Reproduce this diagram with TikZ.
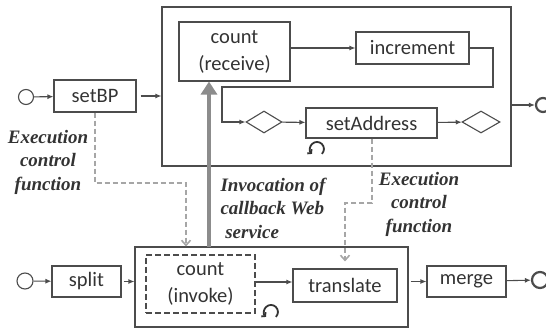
\documentclass[tikz,border=0pt]{standalone}
\usepackage{fontspec}
\setmainfont{Carlito}
\newfontfamily\labelfont{Liberation Serif}
\usetikzlibrary{shapes.geometric,arrows.meta}

\tikzset{
  task/.style={draw=black!70, line width=1.1pt, rectangle, inner sep=0pt, text=black!80,
    font=\fontsize{20.5}{27}\selectfont, align=center},
  gate/.style={draw=black!70, line width=1.1pt, diamond, inner sep=0pt},
  event/.style={draw=black!70, line width=1.1pt, circle, inner sep=0pt, minimum size=15pt},
  endevent/.style={event, line width=2.2pt, minimum size=14pt},
  flow/.style={draw=black!70, line width=1.1pt, -{Latex[length=6pt,width=5pt]}},
  ctrl/.style={draw=black!35, line width=1.6pt, dash pattern=on 5pt off 3pt, -{Straight Barb[length=5pt,width=9pt]}},
  callback/.style={draw=black!45, line width=3.5pt, -{Triangle[length=13pt,width=16pt]}},
  note/.style={font=\labelfont\bfseries\itshape\fontsize{19}{23.5}\selectfont, text=black!80},
  loopmark/.style={draw=black!80, line width=1.8pt}
}

\begin{document}
\begin{tikzpicture}[x=1pt,y=-1pt]
    \useasboundingbox (0,0) rectangle (546,328);
    % upper process
    \node[task, minimum width=349pt, minimum height=159pt] (bp) at (336.5,86.5) {};
    \node[task, minimum width=111pt, minimum height=59pt] (recv) at (234.5,51.5) {count\\(receive)};
    \node[task, minimum width=113pt, minimum height=32pt] (incr) at (412.5,48) {increment};
    \node[gate, minimum width=36pt, minimum height=22pt] (dia1) at (264,122) {};
    \node[task, minimum width=131pt, minimum height=30pt] (addr) at (371.5,123) {setAddress};
    \node[gate, minimum width=38pt, minimum height=22pt] (dia2) at (481,122) {};
    \node[event] (start1) at (26,97) {};
    \node[task, minimum width=82pt, minimum height=32pt] (setbp) at (95,96) {setBP};
    \node[endevent] (end1) at (543,105) {};
    % lower process
    \node[task, minimum width=273pt, minimum height=80pt] (ibox) at (271.5,287) {};
    \node[task, dashed, dash pattern=on 6pt off 3pt, line width=1.6pt, minimum width=109pt, minimum height=58pt] (invk) at (200.5,284) {count\\(invoke)};
    \node[task, minimum width=104pt, minimum height=33pt] (trans) at (345,285.5) {translate};
    \node[event, minimum size=16pt] (start2) at (25,281) {};
    \node[task, minimum width=69pt, minimum height=31pt] (split) at (86.5,281.5) {split};
    \node[task, minimum width=79pt, minimum height=31pt] (merge) at (466.5,281.5) {merge};
    \node[endevent, minimum size=16pt] (end2) at (540,280) {};

    % sequence flows
    \draw[flow] (start1) -- (setbp);
    \draw[flow, shorten <=4pt] (setbp.east) -- (setbp.east -| bp.west);
    \draw[flow] (recv.east |- incr.west) -- (incr.west);
    \coordinate (lp1) at (493,87);
    \coordinate (lp2) at (222,87);
    \draw[flow] (incr.east) -| (lp1) -- (lp2) |- (dia1.west);
    \draw[flow] (dia1) -- (addr);
    \draw[flow] (addr) -- (dia2);
    \draw[flow] (bp.east |- end1) -- (end1);
    \draw[flow] (start2) -- (split);
    \draw[flow, shorten <=2pt] (split.east) -- (split.east -| ibox.west);
    \draw[flow] (invk.east |- 0,282) -- (trans.west |- 0,282);
    \draw[flow, shorten <=2pt] (ibox.east |- merge.west) -- (merge.west);
    \draw[flow] (merge) -- (end2);

    % loop markers
    \draw[loopmark, {Straight Barb[length=2.5pt,width=6pt]}-] (312,153.9) arc[start angle=135, end angle=405, radius=7];
    \draw[loopmark, {Straight Barb[length=2.5pt,width=6pt]}-] (266,316.9) arc[start angle=135, end angle=405, radius=7];

    % execution control and callback
    \coordinate (dc1) at (186,183);
    \draw[ctrl] (setbp.south) |- (dc1) -- (dc1 |- ibox.north);
    \coordinate (dc2) at (345,203);
    \draw[ctrl, shorten >=7pt] (addr.south -| 372,0) |- (dc2) -- (dc2 |- trans.north);
    \coordinate (cb) at (209,247);
    \draw[callback] (cb) -- (cb |- recv.south);

    \node[note, align=center] (ecf1) at (48,162) {Execution\\control\\function};
    \node[note, align=left, anchor=west] (inv) at (217,208) {Invocation of\\callback Web\\\ service};
    \node[note, align=center] (ecf2) at (419,204) {Execution\\control\\function};
\end{tikzpicture}
\end{document}
